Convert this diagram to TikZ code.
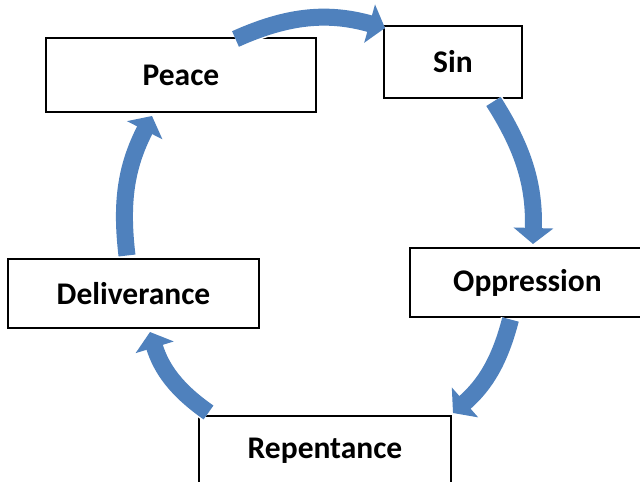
\documentclass[tikz,border=0pt]{standalone}
\usepackage{fontspec}
\setmainfont{Carlito}
\usetikzlibrary{arrows.meta}

\definecolor{cycblue}{RGB}{79,129,189}

\begin{document}
\begin{tikzpicture}[x=1pt, y=1pt,
    every node/.style={font=\bfseries\fontsize{31.5}{37}\selectfont},
    box/.style={draw, line width=1.5pt, fill=white, inner sep=0pt},
    cyc/.style={cycblue, line width=17pt, -{Triangle[width=39pt, length=16pt]},
        preaction={draw=white, line width=20pt, -{Triangle[width=44pt, length=19pt]}}}]
			\clip (0,0) rectangle (640,482);
			\fill[white] (0,0) rectangle (640,482);

			% the five stages
			\node[box, minimum width=270pt, minimum height=74pt] (peace) at (181,407) {Peace};
			\node[box, minimum width=138pt, minimum height=72pt] (sin) at (453,420) {Sin};
			\node[box, minimum width=235pt, minimum height=69pt] (oppr) at (527.5,199.5) {Oppression};
			\node[box, minimum width=252pt, minimum height=69pt] (rep) at (325,31.5) {Repentance};
			\node[box, minimum width=251pt, minimum height=69pt] (deliv) at (133.5,188.5) {Deliverance};

			% arrow ends
			\coordinate (peace-out) at (235.5,443);
			\coordinate (sin-in) at (385,454);
			\coordinate (sin-out) at (493.5,380.5);
			\coordinate (oppr-in) at (533,238);
			\coordinate (oppr-out) at (510.5,162.5);
			\coordinate (rep-in) at (453,69);
			\coordinate (rep-out) at (208.5,69.5);
			\coordinate (deliv-in) at (150,150);
			\coordinate (deliv-out) at (127,226.5);
			\coordinate (peace-in) at (152,366);

			\draw[cyc] (peace-out) to[bend left=20] (sin-in);
			\draw[cyc] (sin-out) to[bend left=17] (oppr-in);
			\draw[cyc] (oppr-out) to[bend left=17] (rep-in);
			\draw[cyc] (rep-out) to[bend left=19] (deliv-in);
			\draw[cyc] (deliv-out) to[bend left=17] (peace-in);
		\end{tikzpicture}
\end{document}
